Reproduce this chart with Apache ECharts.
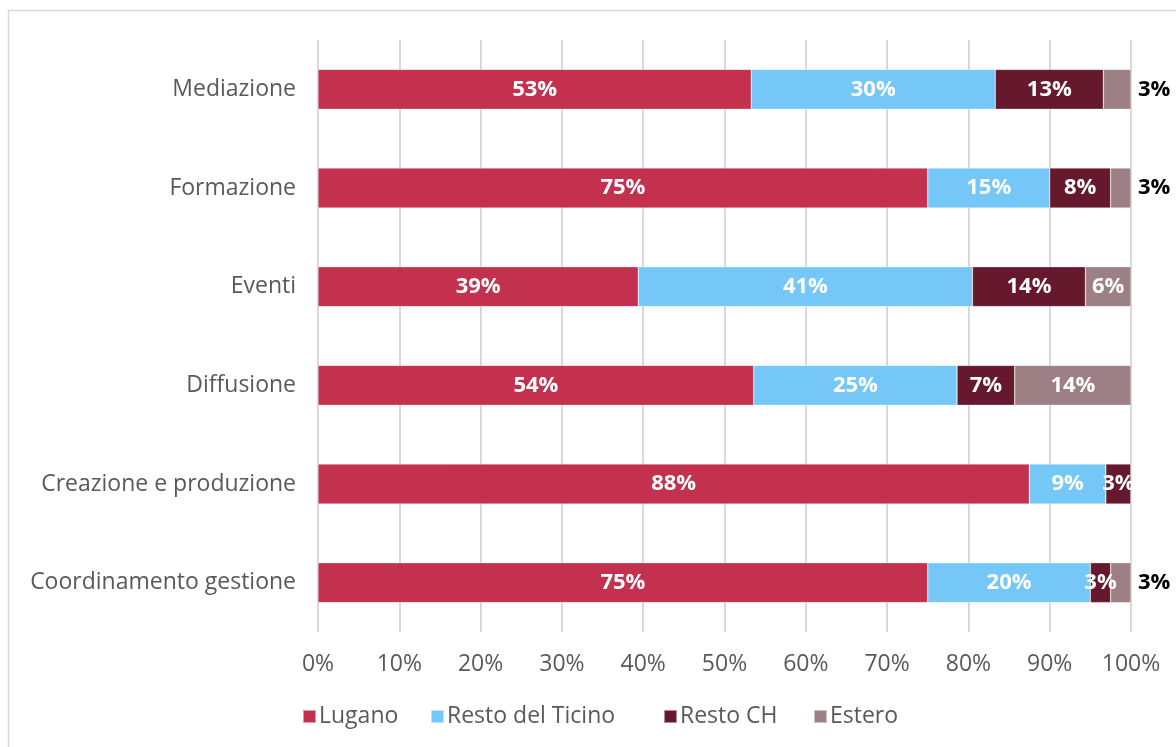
<!DOCTYPE html>
<html>
<head>
<meta charset="utf-8">
<script src="https://cdn.jsdelivr.net/npm/echarts@6/dist/echarts.min.js"></script>
<style>html,body{margin:0;padding:0;background:#fff}#c{width:1176px;height:747px}</style>
</head>
<body>
<div id="c"></div>
<script>
const categories = ["Mediazione","Formazione","Eventi","Diffusione","Creazione e produzione","Coordinamento gestione"];
const seriesNames = ["Lugano","Resto del Ticino","Resto CH","Estero"];
const lugano = [53.3, 75.0, 39.4, 53.6, 87.5, 75.0];
const restoTicino = [30.0, 15.0, 41.1, 25.0, 9.4, 20.0];
const restoCH = [13.3, 7.5, 13.9, 7.1, 3.1, 2.5];
const estero = [3.4, 2.5, 5.6, 14.3, 0, 2.5];
const colors = ["#C3314F", "#74C7F7", "#66192C", "#9D8083"];
const xTicks = [0,10,20,30,40,50,60,70,80,90,100];

const FONT = '"Open Sans", sans-serif';
const allData = [lugano, restoTicino, restoCH, estero];

const series = allData.map((arr, si) => ({
  name: seriesNames[si],
  type: 'bar',
  stack: 'tot',
  barWidth: 40,
  itemStyle: { color: colors[si], borderColor: 'rgba(255,255,255,0.5)', borderWidth: 0.6 },
  label: {
    show: true,
    position: 'inside',
    color: '#fff',
    fontFamily: FONT,
    fontWeight: 'bold',
    fontSize: 22,
    formatter: p => p.value > 0 ? Math.round(p.value) + '%' : ''
  },
  data: arr.map(v => {
    if (si === 3 && v > 0 && v < 4) {
      return { value: v, label: { position: 'right', distance: 7, color: '#000' } };
    }
    return v;
  })
}));

const legendLeft = [302, 430, 663, 813];
const legends = seriesNames.map((n, i) => ({
  data: [n], left: legendLeft[i], top: 705, padding: 0,
  icon: 'rect', itemWidth: 13, itemHeight: 13, itemGap: 0,
  textStyle: { color: '#595959', fontFamily: FONT, fontSize: 23, padding: [0,0,0,-2] }
}));

const chart = echarts.init(document.getElementById('c'), null, { renderer: 'canvas' });
chart.setOption({
  animation: false,
  color: colors,
  graphic: [{
    type: 'rect',
    shape: { x: 8.5, y: 10.5, width: 1200, height: 800 },
    style: { fill: 'none', stroke: '#d9d9d9', lineWidth: 1.5 },
    silent: true
  }],
  grid: { left: 318, right: 45, top: 40, bottom: 115, containLabel: false },
  xAxis: {
    type: 'value', min: 0, max: 100, interval: 10,
    axisLine: { show: false }, axisTick: { show: false },
    splitLine: { show: true, lineStyle: { color: '#d9d9d9', width: 2 } },
    axisLabel: {
      color: '#595959', fontFamily: FONT, fontSize: 23, margin: 21,
      formatter: v => xTicks.indexOf(v) >= 0 ? v + '%' : ''
    }
  },
  yAxis: {
    type: 'category', data: categories, inverse: true,
    axisLine: { show: false }, axisTick: { show: false },
    axisLabel: { color: '#595959', fontFamily: FONT, fontSize: 23, margin: 22, padding: [3,0,0,0] }
  },
  legend: legends,
  series: series
});
</script>
</body>
</html>
